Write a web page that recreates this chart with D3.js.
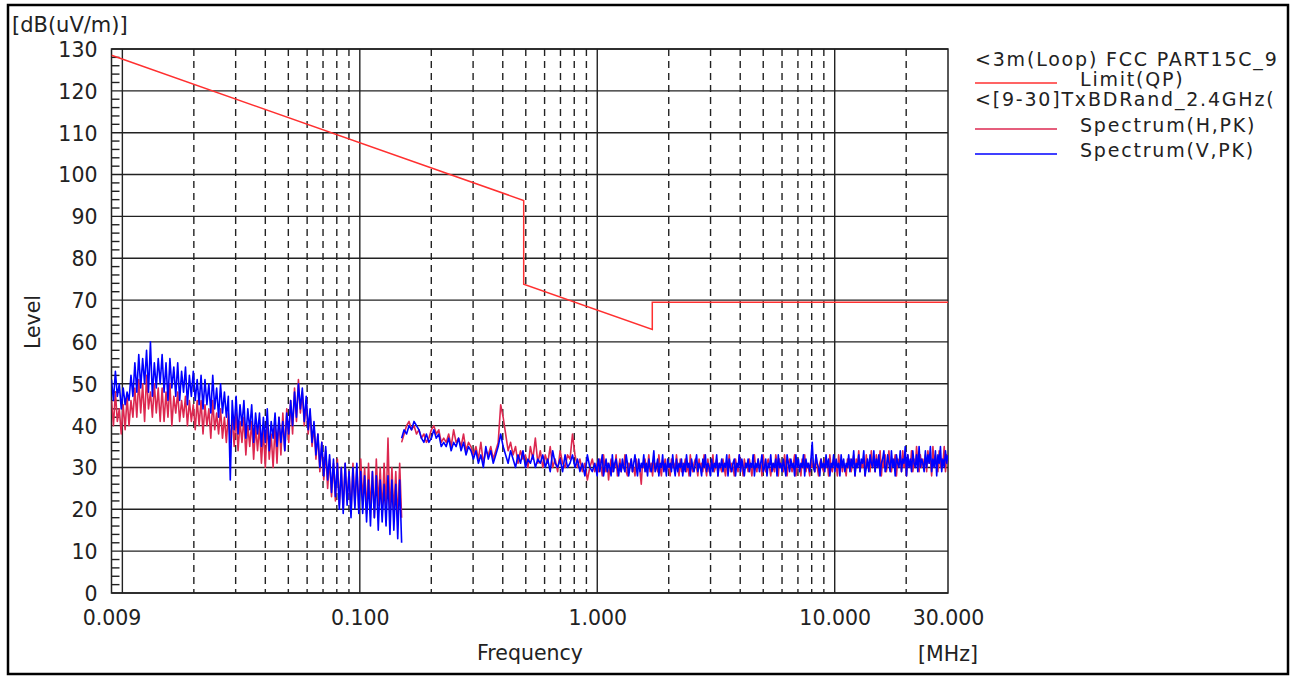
<!DOCTYPE html>
<html><head><meta charset="utf-8">
<script src="https://cdn.jsdelivr.net/npm/d3@7"></script>
<style>body{margin:0;background:#fff}svg{display:block}</style>
</head><body>
<svg id="c" width="1306" height="677"></svg>
<script>
// ---- data ----
const limitFreq  = [0.009, 0.49, 0.49, 1.705, 1.705, 30];
const limitLevel = [128.5, 93.8, 73.8, 63.0, 69.5, 69.5];

// sweep segments (start/stop MHz); levels below are read point by point
const sweepSegments = [[0.009, 0.15], [0.15, 1.0], [1.0, 30]];

const hSeg1 = [46,40,48,41,44,38,45,39,47,40,46,42,
  49,42,51,43,50,41,52,44,48,42,50,43,49,41,
  49,41,48,42,50,40,47,43,48,41,46,42,47,40,46,41,45,39,46,40,
  46,38,45,40,44,37,46,39,43,38,44,37,42,36,43,
  36,42,35,43,34,41,36,42,33,40,35,41,32,40,34,
  40,31,39,30,41,32,38,30,40,31,42,33,43,34,44,
  36,46,38,49,41,51,43,
  48,40,46,38,43,35,40,32,
  38,29,36,27,34,25,32,23,31,22,
  32,21,30,20,31,22,29,19,31,21,30,20,32,
  22,30,19,31,20,29,18,32,21,30,19,31,20,37,18,30,19,29,17,31,18];

const vSeg1 = [51,46,53,47,50,44,49,45,48,46,52,47,
  55,48,57,49,56,50,58,48,60,47,55,49,56,50,
  57,48,55,46,56,49,54,47,55,46,53,48,54,45,52,47,53,46,51,45,
  52,44,51,45,50,43,52,44,49,42,50,43,48,42,47,
  27,46,39,47,38,45,40,46,37,44,39,45,36,43,38,
  43,35,42,36,44,34,41,37,43,35,42,36,41,34,43,
  38,46,40,48,42,50,44,
  49,41,47,39,44,36,41,33,
  38,30,36,28,35,27,33,24,32,23,
  31,20,30,19,31,21,29,18,30,20,31,19,29,
  19,28,17,27,16,29,18,28,15,27,17,26,16,28,14,27,15,26,13,27,12];

const hSeg2 = [36,38,40,41,39,40,38,39,
  37,38,36,37,39,
  40,38,39,36,37,
  36,38,35,39,36,37,35,38,34,36,35,
  33,35,32,36,31,34,33,35,32,34,36,
  45,42,
  38,34,36,33,35,31,34,32,33,30,35,32,37,31,
  34,30,33,31,35,30,32,29,34,31,30,33,32,38,
  33,30,32,29,31,27,30,32,29,31];

const vSeg2 = [37,39,38,40,39,41,40,39,
  37,36,38,36,37,
  39,37,38,35,36,
  35,37,34,36,35,37,34,36,33,35,34,
  32,34,31,33,30,35,32,34,31,33,35,
  38,35,
  33,31,34,32,30,33,31,34,30,32,31,33,30,32,
  31,33,30,32,29,34,31,30,32,29,33,30,31,33,
  30,32,29,31,28,33,30,29,31,28];

const hSeg3 = [
  31,29,32,30,28,33,30,29,31,27,30,32,29,31,30,33,28,30,32,29,
  31,30,33,29,28,31,30,32,29,30,28,32,30,31,29,26,31,30,32,29,
  30,33,29,31,28,32,30,31,29,33,30,28,31,30,32,29,31,30,28,32,
  30,31,29,33,30,28,32,29,31,30,32,29,31,28,33,30,29,31,32,30,
  28,32,30,31,29,33,30,28,32,29,31,30,33,29,30,32,28,31,30,29,
  32,30,28,31,30,33,29,31,30,28,32,30,29,33,30,31,28,32,30,31,
  29,32,30,28,31,33,30,29,32,30,31,28,33,30,29,31,32,30,28,31,
  30,29,33,31,28,32,30,31,29,33,30,28,31,32,30,29,31,33,28,30,
  31,30,28,32,30,33,29,31,30,28,32,30,31,29,33,30,28,31,32,30,
  29,32,30,31,28,33,30,29,32,30,31,28,33,30,32,29,31,30,28,32,
  30,32,29,31,33,28,32,30,34,29,31,30,32,28,33,30,31,29,34,30,
  32,29,33,31,30,34,28,32,30,33,29,31,34,30,29,32,31,33,28,32,
  31,33,29,34,30,32,28,33,31,30,34,29,32,30,35,31,29,33,30,32,
  30,33,29,34,31,32,28,35,30,33,31,29,34,30,32,31,35,29,33,31];

const vSeg3 = [
  30,32,29,31,33,28,30,32,29,31,30,28,33,29,31,32,30,28,31,29,
  32,30,29,33,31,28,30,32,29,31,33,30,28,32,29,31,30,33,29,31,
  28,32,30,29,31,34,29,30,32,28,31,30,33,29,31,28,32,30,31,29,
  33,30,28,32,29,31,30,32,28,31,29,33,30,31,28,32,30,29,31,33,
  29,31,30,28,32,30,33,29,31,30,28,32,29,31,30,33,28,31,30,32,
  29,31,30,33,28,32,30,29,31,32,28,31,30,33,29,32,30,28,31,30,
  32,29,31,30,33,28,31,30,32,29,31,33,29,30,32,28,31,30,33,29,
  31,30,32,28,33,30,31,29,32,30,28,33,31,29,32,30,31,28,33,30,
  32,29,31,30,33,28,32,30,31,29,32,36,30,29,33,31,30,28,32,30,
  31,29,33,30,32,28,31,30,33,29,32,30,31,28,33,30,32,29,31,30,
  33,29,32,30,34,28,31,30,33,29,32,31,34,28,30,32,29,33,31,30,
  34,29,32,30,33,28,31,32,34,29,30,33,31,29,34,30,32,28,33,31,
  30,34,29,32,31,35,28,33,30,32,29,34,31,30,33,29,35,30,32,31,
  29,34,30,33,31,35,29,32,30,34,28,33,31,35,29,32,30,34,31,33];

const yTickValues = [0,10,20,30,40,50,60,70,80,90,100,110,120,130];
const xTickValues = [0.009, 0.1, 1, 10, 30];
const xTickLabels = ["0.009", "0.100", "1.000", "10.000", "30.000"];
const decades = [0.01, 0.1, 1, 10];
const multipliers = [2,3,4,5,6,7,8,9];

const legendTitles = ["<3m(Loop) FCC PART15C_9", "<[9-30]TxBDRand_2.4GHz("];
const legendItems = [
  {label: "Limit(QP)", color: "#ff3030"},
  {label: "Spectrum(H,PK)", color: "#dc2850"},
  {label: "Spectrum(V,PK)", color: "#0000ff"}
];

// ---- drawing ----
const svg = d3.select("#c");
const FONT = "DejaVu Sans";
const L = 111.5, R = 948, T = 49, B = 593;
const x = d3.scaleLog().domain([0.009, 30]).range([L, R]);
const y = d3.scaleLinear().domain([0, 130]).range([B, T]);

svg.append("rect").attr("x",8).attr("y",5).attr("width",1280).attr("height",669)
  .attr("fill","#fff").attr("stroke","#000").attr("stroke-width",2.5);

const defs = svg.append("defs");
defs.append("clipPath").attr("id","plotclip").append("rect")
  .attr("x",L).attr("y",T).attr("width",R-L).attr("height",B-T);

const grid = svg.append("g");
grid.selectAll("line.h").data(yTickValues).join("line")
  .attr("x1",L).attr("x2",R).attr("y1",d=>y(d)).attr("y2",d=>y(d))
  .attr("stroke","#222").attr("stroke-width",1.4);
const minor = d3.range(0,131,2).filter(v=>v%10!==0);
grid.selectAll("line.m").data(minor).join("line")
  .attr("x1",L).attr("x2",L+8).attr("y1",d=>y(d)).attr("y2",d=>y(d))
  .attr("stroke","#222").attr("stroke-width",1.4);
grid.selectAll("line.d").data(decades).join("line")
  .attr("x1",d=>x(d)).attr("x2",d=>x(d)).attr("y1",T).attr("y2",B)
  .attr("stroke","#222").attr("stroke-width",1.4);
const dashed = [];
decades.concat([0.001]).forEach(d=>multipliers.forEach(m=>{const f=d*m; if(f>0.0095 && f<29) dashed.push(f);}));
grid.selectAll("line.v").data(dashed).join("line")
  .attr("x1",d=>x(d)).attr("x2",d=>x(d)).attr("y1",T).attr("y2",B)
  .attr("stroke","#222").attr("stroke-width",1.4).attr("stroke-dasharray","7,5");
svg.append("rect").attr("x",L).attr("y",T).attr("width",R-L).attr("height",B-T)
  .attr("fill","none").attr("stroke","#222").attr("stroke-width",1.5);

const yAxis = svg.append("g").attr("transform",`translate(${L-14},0)`)
  .call(d3.axisLeft(y).tickValues(yTickValues).tickSize(0).tickFormat(d3.format("d")));
yAxis.select(".domain").remove();
yAxis.selectAll("text").attr("font-family",FONT).attr("font-size",20.5).attr("fill","#222").attr("dy","0.36em").attr("x",0);

const xAxis = svg.append("g").attr("transform",`translate(0,${B+17})`)
  .call(d3.axisBottom(x).tickValues(xTickValues).tickSize(0).tickFormat((d,i)=>xTickLabels[i]));
xAxis.select(".domain").remove();
xAxis.selectAll("text").attr("font-family",FONT).attr("font-size",20.5).attr("fill","#222").attr("dy","0.71em").attr("y",0);

svg.append("text").attr("x",12).attr("y",32).text("[dB(uV/m)]")
  .attr("font-family",FONT).attr("font-size",21).attr("fill","#222");
svg.append("text").attr("x",530).attr("y",660).attr("text-anchor","middle").text("Frequency")
  .attr("font-family",FONT).attr("font-size",20.5).attr("fill","#222");
svg.append("text").attr("x",948).attr("y",661).attr("text-anchor","middle").text("[MHz]")
  .attr("font-family",FONT).attr("font-size",20.5).attr("fill","#222");
svg.append("text").attr("transform","translate(40,322) rotate(-90)").attr("text-anchor","middle").text("Level")
  .attr("font-family",FONT).attr("font-size",20.5).attr("fill","#222");

// traces
const plot = svg.append("g").attr("clip-path","url(#plotclip)");
function sweep(seg, vals){
  const lg = d3.scaleLinear().domain([0, vals.length-1]).range([Math.log10(seg[0]), Math.log10(seg[1])]);
  return vals.map((v,i)=>[Math.pow(10, lg(i)), v]);
}
const line = d3.line().x(d=>x(d[0])).y(d=>y(d[1]));
const hData = [sweep(sweepSegments[0], hSeg1), sweep(sweepSegments[1], hSeg2).concat(sweep(sweepSegments[2], hSeg3))];
const vData = [sweep(sweepSegments[0], vSeg1), sweep(sweepSegments[1], vSeg2).concat(sweep(sweepSegments[2], vSeg3))];
hData.forEach(d=>plot.append("path").attr("d",line(d)).attr("fill","none")
  .attr("stroke","#dc2850").attr("stroke-width",1.6).attr("stroke-linejoin","round"));
vData.forEach(d=>plot.append("path").attr("d",line(d)).attr("fill","none")
  .attr("stroke","#0000ff").attr("stroke-width",1.6).attr("stroke-linejoin","round"));
plot.append("path").attr("d",line(limitFreq.map((f,i)=>[f,limitLevel[i]]))).attr("fill","none")
  .attr("stroke","#ff3030").attr("stroke-width",1.5);

// legend
const leg = svg.append("g")
  .attr("font-family",FONT).attr("font-size",19).attr("fill","#222").attr("letter-spacing","1.8");
leg.append("text").attr("x",975).attr("y",66).text(legendTitles[0]);
leg.append("text").attr("x",975).attr("y",106).text(legendTitles[1]);
const legRows = [86, 132, 157];
legendItems.forEach((it,i)=>{
  leg.append("line").attr("x1",975).attr("x2",1057).attr("y1",legRows[i]-3).attr("y2",legRows[i]-3)
    .attr("stroke",it.color).attr("stroke-width",1.5);
  leg.append("text").attr("x",1080).attr("y",legRows[i]).text(it.label);
});
</script>
</body></html>
